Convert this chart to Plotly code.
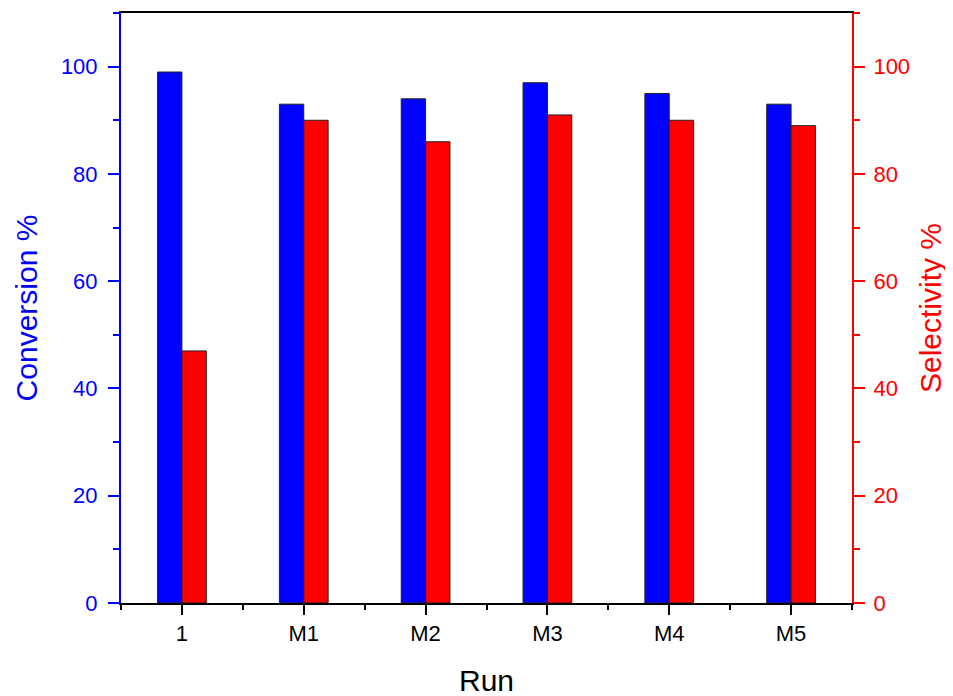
import plotly.graph_objects as go

runs = ["1", "M1", "M2", "M3", "M4", "M5"]
conversion = [99, 93, 94, 97, 95, 93]
selectivity = [47, 90, 86, 91, 90, 89]

xpos = list(range(len(runs)))
FONT = "Liberation Sans, Arial, sans-serif"
BLUE = "#0000FF"
RED = "#FF0000"

fig = go.Figure()
fig.add_trace(go.Bar(x=xpos, y=conversion, name="Conversion %", marker=dict(color=BLUE, line=dict(color="#222222", width=1)),
                     width=0.2, offset=-0.2, yaxis="y"))
fig.add_trace(go.Bar(x=xpos, y=selectivity, name="Selectivity %", marker=dict(color=RED, line=dict(color="#222222", width=1)),
                     width=0.2, offset=0.0, yaxis="y2"))

fig.update_layout(
    width=953, height=696,
    margin=dict(l=113, r=109, t=5, b=101, autoexpand=False),
    plot_bgcolor="white", paper_bgcolor="white",
    showlegend=False,
    font=dict(family=FONT, size=22, color="black"),
    xaxis=dict(
        range=[-0.5, 5.5], tickmode="array", tickvals=xpos, ticktext=runs,
        showgrid=False, zeroline=False, automargin=False,
        showline=True, linecolor="black", linewidth=2, mirror=True,
        ticks="outside", ticklen=10, tickwidth=2, tickcolor="black",
        tickfont=dict(size=22, color="black"),
        minor=dict(tick0=0.5, dtick=1, ticks="outside", ticklen=5, tickwidth=2, tickcolor="black"),
        title=dict(text="Run", font=dict(size=30, color="black"), standoff=25),
    ),
    yaxis=dict(
        range=[0, 110], tick0=0, dtick=20,
        showgrid=False, zeroline=False, automargin=False,
        showline=True, linecolor=BLUE, linewidth=2,
        ticks="outside", ticklen=11, tickwidth=2, tickcolor=BLUE,
        tickfont=dict(size=22, color=BLUE), ticklabelstandoff=6,
        minor=dict(tick0=0, dtick=10, ticks="outside", ticklen=6, tickwidth=2, tickcolor=BLUE),
        title=dict(text="Conversion %", font=dict(size=30, color=BLUE), standoff=14),
    ),
    yaxis2=dict(
        range=[0, 110], tick0=0, dtick=20, overlaying="y", side="right",
        showgrid=False, zeroline=False, automargin=False,
        showline=True, linecolor=RED, linewidth=2,
        ticks="outside", ticklen=11, tickwidth=2, tickcolor=RED,
        tickfont=dict(size=22, color=RED), ticklabelstandoff=4,
        minor=dict(tick0=0, dtick=10, ticks="outside", ticklen=6, tickwidth=2, tickcolor=RED),
        title=dict(text="Selectivity %", font=dict(size=30, color=RED), standoff=11),
    ),
)

fig.write_html("out.html")
